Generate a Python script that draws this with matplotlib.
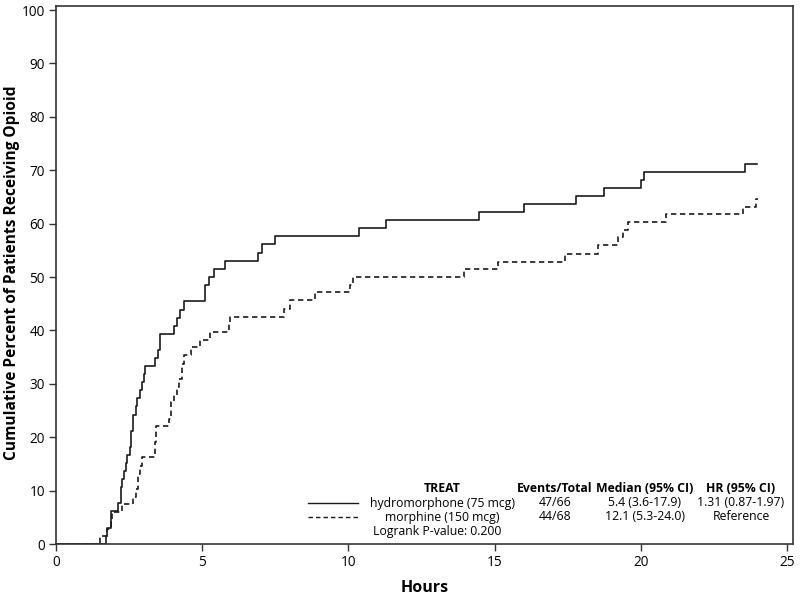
import matplotlib
matplotlib.use("Agg")
import matplotlib.pyplot as plt

# step points (hours, cumulative %)
hydro_t = [0, 1.70, 1.75, 1.89, 2.13, 2.21, 2.26, 2.34, 2.38, 2.43, 2.53,
           2.57, 2.62, 2.72, 2.78, 2.87, 2.95, 3.00, 3.06, 3.40, 3.48, 3.55,
           4.05, 4.14, 4.23, 4.37, 5.09, 5.24, 5.39, 5.77, 6.90, 7.04, 7.50,
           10.35, 11.27, 14.45, 16.0, 17.78, 18.74, 20.0, 20.1, 23.55, 23.96]
hydro_p = [0, 1.5, 3.0, 6.1, 7.6, 10.6, 12.1, 13.6, 15.2, 16.7, 18.2,
           21.2, 24.2, 25.8, 27.3, 28.8, 30.3, 31.8, 33.3, 34.8, 36.4, 39.4,
           40.9, 42.4, 43.9, 45.5, 48.5, 50.0, 51.5, 53.0, 54.5, 56.1, 57.6,
           59.1, 60.6, 62.1, 63.6, 65.2, 66.7, 68.2, 69.7, 71.2, 71.2]

morph_t = [0, 1.49, 1.75, 1.87, 1.92, 2.26, 2.64, 2.74, 2.80, 2.88, 2.95,
           3.38, 3.42, 3.86, 3.92, 4.05, 4.15, 4.20, 4.30, 4.37, 4.60, 4.94,
           5.28, 5.90, 5.96, 7.78, 8.00, 8.86, 10.06, 10.17, 13.95, 15.1,
           17.4, 18.53, 19.2, 19.4, 19.55, 20.86, 23.48, 23.94, 24.0]
morph_p = [0, 1.5, 2.9, 4.4, 5.9, 7.4, 8.8, 10.3, 13.2, 14.7, 16.2,
           19.1, 22.1, 23.5, 26.5, 27.9, 29.4, 30.9, 33.8, 35.3, 36.8, 38.2,
           39.7, 41.2, 42.6, 44.1, 45.6, 47.1, 48.5, 50.0, 51.5, 52.9,
           54.4, 55.9, 57.4, 58.8, 60.3, 61.8, 63.2, 64.7, 64.7]

headers = ["TREAT", "Events/Total", "Median (95% CI)", "HR (95% CI)"]
groups = ["hydromorphone (75 mcg)", "morphine (150 mcg)"]
events = ["47/66", "44/68"]
medians = ["5.4 (3.6-17.9)", "12.1 (5.3-24.0)"]
hrs = ["1.31 (0.87-1.97)", "Reference"]
logrank = "Logrank P-value: 0.200"

plt.rcParams["font.family"] = ["Open Sans", "DejaVu Sans"]
W, H = 800, 597
fig = plt.figure(figsize=(W / 100, H / 100), dpi=100)
ax = fig.add_axes([56 / W, 1 - 544 / H, (793 - 56) / W, (544 - 6) / H])

dark = "#1a1a1a"
dash = (0, (3.2, 2.2))
ax.step(hydro_t, hydro_p, where="post", color=dark, lw=1.2)
ax.step(morph_t, morph_p, where="post", color=dark, lw=1.2, linestyle=dash)

ax.set_xlim(0, 25.2)
ax.set_ylim(0, 100.75)
ax.set_xticks(range(0, 26, 5))
ax.set_yticks(range(0, 101, 10))
for s in ax.spines.values():
    s.set_color("#333333")
    s.set_linewidth(1.2)
ax.tick_params(length=5, width=1, color="#333333", labelsize=9.8, pad=3)
ax.set_xlabel("Hours", fontsize=11.5, fontweight="bold", labelpad=7)


def fx(x):
    return x / W


def fy(y):
    return 1 - y / H


fig.text(fx(12), fy(273), "Cumulative Percent of Patients Receiving Opioid",
         rotation=90, ha="center", va="center", fontsize=11.2,
         fontweight="bold")

# inset statistics table
fs = 8.8
col_x = [442, 555, 645, 741]
for cx, h in zip(col_x, headers):
    fig.text(fx(cx), fy(489), h, ha="center", va="center", fontsize=fs,
             fontweight="bold")
row_y = [503, 517]
styles = ["-", dash]
for i, ry in enumerate(row_y):
    fig.add_artist(plt.Line2D([fx(308), fx(358)], [fy(ry), fy(ry)],
                              color=dark, lw=1.0, linestyle=styles[i]))
    fig.text(fx(col_x[0]), fy(ry), groups[i], ha="center", va="center",
             fontsize=fs)
    fig.text(fx(col_x[1]), fy(ry), events[i], ha="center", va="center",
             fontsize=fs)
    fig.text(fx(col_x[2]), fy(ry), medians[i], ha="center", va="center",
             fontsize=fs)
    fig.text(fx(col_x[3]), fy(ry), hrs[i], ha="center", va="center",
             fontsize=fs)
fig.text(fx(373), fy(532), logrank, ha="left", va="center", fontsize=fs)

fig.savefig("out.png", dpi=100)
